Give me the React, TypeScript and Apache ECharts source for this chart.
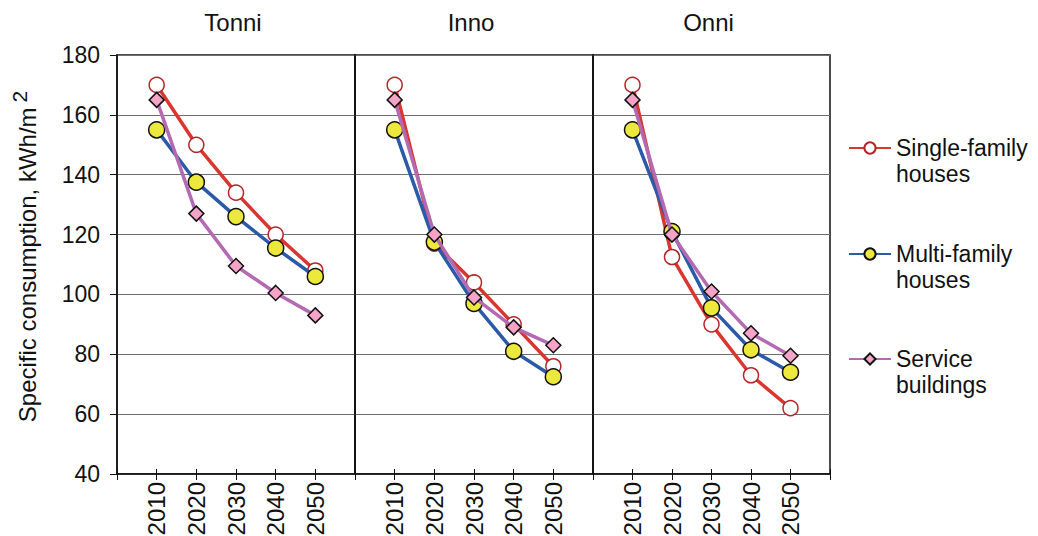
import React, { useEffect, useRef } from "react";
import * as echarts from "echarts";

// Years on the x axis of every panel; 2000 and 2060 are just padding at the panel edges.
const years = [2010, 2020, 2030, 2040, 2050];
const yTicks = [40, 60, 80, 100, 120, 140, 160, 180];
const regions = ["Tonni", "Inno", "Onni"];
const seriesNames = ["Single-family\nhouses", "Multi-family\nhouses", "Service\nbuildings"];

// Specific consumption, kWh/m2
const singleTonni = [170, 150, 134, 120, 108];
const multiTonni = [155, 137.5, 126, 115.5, 106];
const serviceTonni = [165, 127, 109.5, 100.5, 93];

const singleInno = [170, 117, 104, 90, 76];
const multiInno = [155, 117.5, 97, 81, 72.5];
const serviceInno = [165, 120, 99, 89, 83];

const singleOnni = [170, 112.5, 90, 73, 62];
const multiOnni = [155, 121, 95.5, 81.5, 74];
const serviceOnni = [165, 120, 101, 87, 79.5];

const regionData = [
  [singleTonni, multiTonni, serviceTonni],
  [singleInno, multiInno, serviceInno],
  [singleOnni, multiOnni, serviceOnni],
];

const FONT = "Liberation Sans, Arial, Helvetica, sans-serif";

const seriesStyles = [
  { line: "#d8362f", symbol: "circle", size: 15, fill: "#ffffff", border: "#b3262a" },
  { line: "#2a5aa8", symbol: "circle", size: 16, fill: "#ece83c", border: "#111111" },
  { line: "#b46ab2", symbol: "diamond", size: 15, fill: "#f5a4c7", border: "#111111" },
];

export default function App() {
  const ref = useRef<HTMLDivElement>(null);

  useEffect(() => {
    if (!ref.current) return;
    const chart = echarts.init(ref.current, null, { renderer: "svg" });

    const gridLeft = 117;
    const gridTop = 55;
    const gridHeight = 419;
    const gridWidths = [238, 238, 237];
    const lefts = [gridLeft, gridLeft + 238, gridLeft + 476];

    const grids = lefts.map((l, i) => ({
      left: l,
      top: gridTop,
      width: gridWidths[i],
      height: gridHeight,
      outerBoundsMode: "none",
      show: true,
      borderColor: "#111",
      borderWidth: 1.5,
      backgroundColor: "transparent",
    }));

    const xAxes: any[] = [];
    lefts.forEach((_, i) => {
      xAxes.push({
        type: "value",
        gridIndex: i,
        min: 2000,
        max: 2060,
        interval: 10,
        axisLine: { show: true, onZero: false, lineStyle: { color: "#111", width: 1.5 } },
        axisTick: { show: true, length: 6, lineStyle: { color: "#111", width: 1 } },
        splitLine: { show: false },
        axisLabel: {
          rotate: 90,
          margin: 8,
          fontSize: 24,
          fontFamily: FONT,
          color: "#111",
          formatter: (v: number) => (years.includes(v) ? String(v) : ""),
        },
      });
    });
    // short ticks pointing up into each panel
    lefts.forEach((_, i) => {
      xAxes.push({
        type: "value",
        gridIndex: i,
        position: "top",
        offset: -gridHeight,
        min: 2000,
        max: 2060,
        interval: 10,
        axisLine: { show: false },
        axisTick: { show: true, length: 5, lineStyle: { color: "#111", width: 1 } },
        splitLine: { show: false },
        axisLabel: { show: false },
      });
    });

    const yAxes = lefts.map((_, i) => ({
      type: "value",
      gridIndex: i,
      min: yTicks[0],
      max: yTicks[yTicks.length - 1],
      interval: 20,
      axisLine: { show: true, lineStyle: { color: "#111", width: 1.5 } },
      axisTick: { show: i === 0, length: 7, lineStyle: { color: "#111" } },
      splitLine: { show: true, lineStyle: { color: "#6e6e6e", width: 1 } },
      axisLabel: {
        show: i === 0,
        margin: 17,
        fontSize: 23,
        fontFamily: FONT,
        color: "#111",
      },
      name: i === 0 ? "{gap|}Specific consumption, kWh/m{sup|2}" : "",
      nameLocation: "middle",
      nameGap: 72,
      nameTextStyle: {
        fontSize: 24,
        fontFamily: FONT,
        color: "#111",
        rich: {
          gap: { width: 16, fontSize: 24 },
          sup: { fontSize: 21, fontFamily: FONT, color: "#111", padding: [0, 0, 15, 5] },
        },
      },
    }));

    const series: any[] = [];
    regionData.forEach((group, g) => {
      group.forEach((vals, s) => {
        const st = seriesStyles[s];
        series.push({
          type: "line",
          name: seriesNames[s],
          xAxisIndex: g,
          yAxisIndex: g,
          data: years.map((y, k) => [y, vals[k]]),
          symbol: st.symbol,
          symbolSize: st.size,
          showAllSymbol: true,
          lineStyle: { color: st.line, width: 3.5 },
          itemStyle: { color: st.fill, borderColor: st.border, borderWidth: 1.5 },
          emphasis: { disabled: true },
          z: 2 + s,
        });
      });
    });

    // each legend entry: blank first line so the label's first line sits level with its icon
    const lh = 26;
    const iconCenters = [148, 254, 359];
    const legends = seriesNames.map((n, i) => ({
      data: [n],
      left: 848,
      top: iconCenters[i] - 1.5 * lh,
      orient: "vertical",
      padding: 0,
      itemWidth: 42,
      itemHeight: 14,
      itemGap: 0,
      selectedMode: false,
      formatter: (name: string) => "\n" + name,
      textStyle: {
        fontSize: 23,
        fontFamily: FONT,
        color: "#111",
        lineHeight: lh,
      },
    }));

    const titles = regions.map((r, i) => ({
      text: r,
      left: lefts[i] + gridWidths[i] / 2 - 3,
      top: 10,
      padding: 0,
      textAlign: "center",
      textStyle: { fontSize: 24, fontWeight: "normal", fontFamily: FONT, color: "#111" },
    }));

    chart.setOption({
      animation: false,
      backgroundColor: "#ffffff",
      textStyle: { fontFamily: FONT },
      title: titles,
      legend: legends,
      grid: grids,
      xAxis: xAxes,
      yAxis: yAxes,
      series,
    });

    return () => chart.dispose();
  }, []);

  return (
    <div
      ref={ref}
      style={{ position: "fixed", left: 0, top: 0, width: 1038, height: 536 }}
    />
  );
}
